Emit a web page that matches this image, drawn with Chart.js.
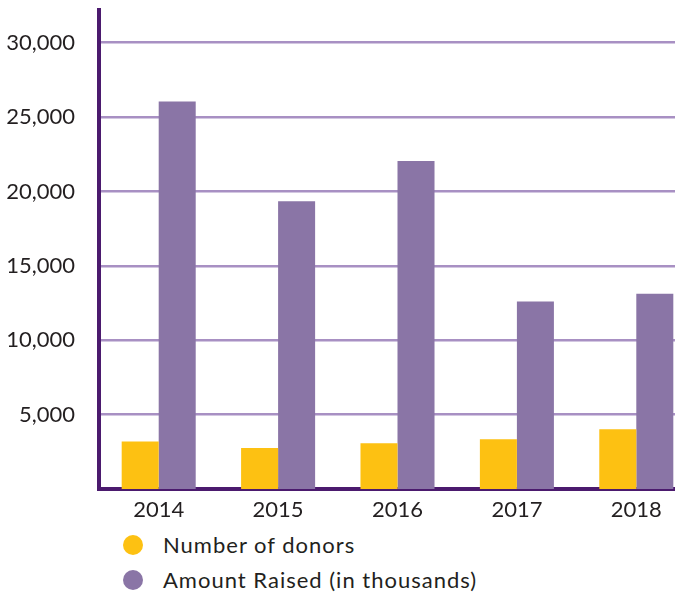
<!DOCTYPE html>
<html>
<head>
<meta charset="utf-8">
<script src="https://cdn.jsdelivr.net/npm/chart.js@4"></script>
<style>
  html, body { margin: 0; padding: 0; background: #fff; width: 675px; height: 594px; overflow: hidden; }
  #wrap { position: absolute; left: 0; top: 0; width: 700px; height: 525px; }
  #legend { position: absolute; left: 123px; top: 527px; font-family: Lato, "Open Sans", sans-serif; font-size: 22px; letter-spacing: 1px; color: #231f20; }
  .item { display: flex; align-items: center; height: 35px; }
  .dot { width: 20px; height: 20px; border-radius: 50%; margin-right: 20px; }
</style>
</head>
<body>
<div id="wrap"><canvas id="c" width="700" height="525"></canvas></div>
<div id="legend"></div>
<script>
const categories = ["2014", "2015", "2016", "2017", "2018"];
const donors = [3200, 2750, 3070, 3340, 4010];
const amountRaised = [26050, 19350, 22050, 12600, 13120];
const seriesNames = ["Number of donors", "Amount Raised (in thousands)"];
const seriesColors = ["#FDC112", "#8A75A6"];
const yTicks = [5000, 10000, 15000, 20000, 25000, 30000];

const axisColor = "#4B1A6E";
const gridColor = "#A890C3";
const font = { family: "Lato, 'Open Sans', sans-serif", size: 22 };

new Chart(document.getElementById("c"), {
  type: "bar",
  data: {
    labels: categories,
    datasets: [
      { label: seriesNames[0], data: donors, backgroundColor: seriesColors[0] },
      { label: seriesNames[1], data: amountRaised, backgroundColor: seriesColors[1] }
    ]
  },
  options: {
    responsive: false,
    animation: false,
    devicePixelRatio: 1,
    layout: { padding: { top: 10, right: 4, left: 0, bottom: 0 } },
    datasets: { bar: { categoryPercentage: 0.62, barPercentage: 1.0 } },
    plugins: { legend: { display: false }, tooltip: { enabled: false } },
    scales: {
      x: {
        grid: { display: false, drawTicks: false },
        border: { display: true, color: axisColor, width: 4 },
        ticks: { color: "#231f20", font: font, padding: 8 },
        afterFit: s => { s.height = 36; s.paddingLeft = 0; s.paddingRight = 0; }
      },
      y: {
        min: 0,
        max: 32200,
        ticks: {
          stepSize: 5000,
          color: "#231f20",
          font: font,
          padding: 24,
          callback: v => v.toLocaleString("en-US")
        },
        afterBuildTicks: s => { s.ticks = yTicks.map(v => ({ value: v })); },
        grid: { color: gridColor, lineWidth: 2.5, drawTicks: false },
        border: { display: true, color: axisColor, width: 4 },
        afterFit: s => { s.width = 99; s.paddingTop = 0; s.paddingBottom = 0; }
      }
    }
  }
});

const legend = document.getElementById("legend");
seriesNames.forEach((name, i) => {
  const item = document.createElement("div");
  item.className = "item";
  const dot = document.createElement("span");
  dot.className = "dot";
  dot.style.background = seriesColors[i];
  const txt = document.createElement("span");
  txt.textContent = name;
  item.appendChild(dot);
  item.appendChild(txt);
  legend.appendChild(item);
});
</script>
</body>
</html>
